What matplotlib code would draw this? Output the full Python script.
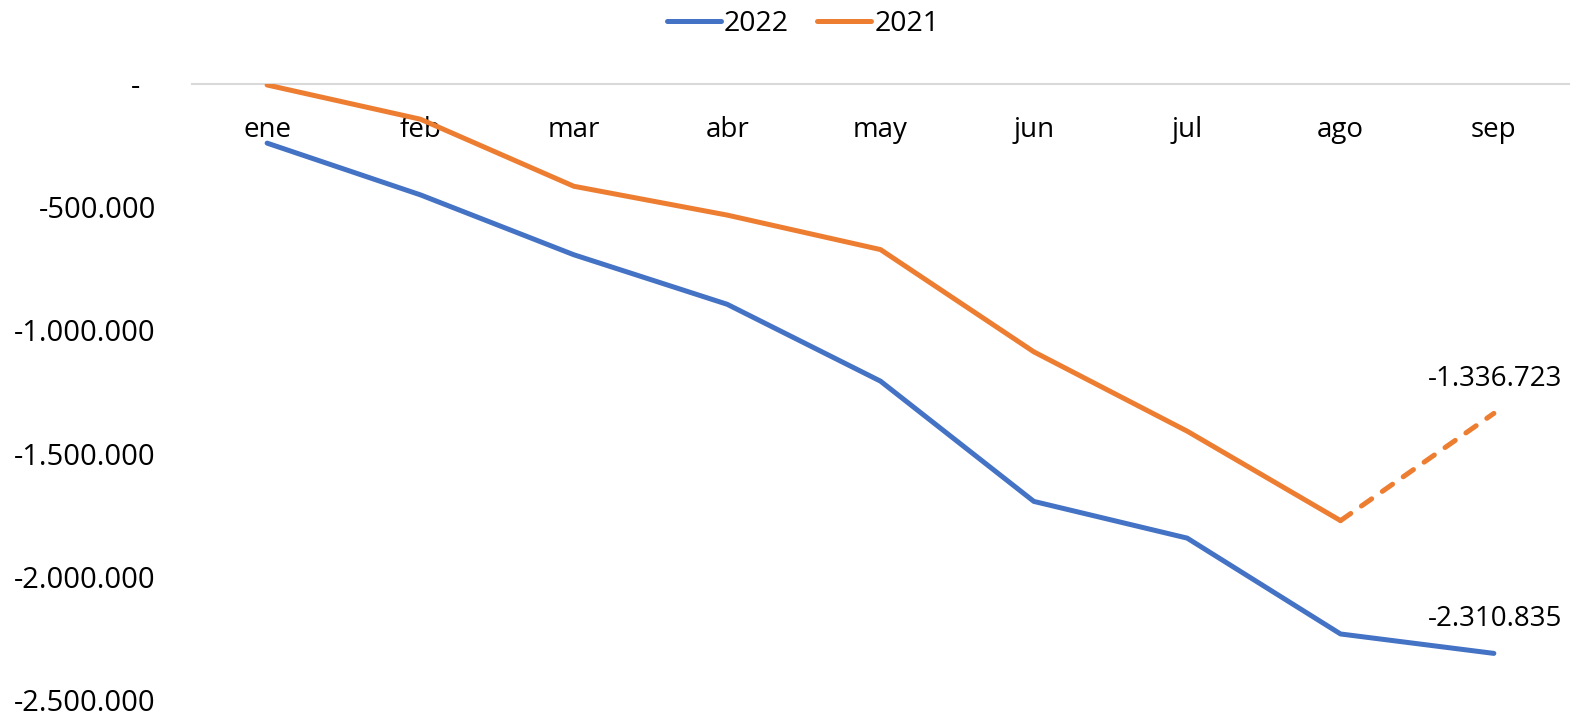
import matplotlib
matplotlib.use("Agg")
import matplotlib.pyplot as plt
from matplotlib.ticker import FuncFormatter

months = ["ene", "feb", "mar", "abr", "may", "jun", "jul", "ago", "sep"]
values_2022 = [-240000, -450000, -693000, -894000, -1206000, -1694000, -1843000, -2232000, -2310835]
values_2021 = [-4000, -143000, -415000, -532000, -672000, -1087000, -1409000, -1772000, -1336723]

BLUE = "#4472C4"
ORANGE = "#ED7D31"
FONT = "Open Sans"
FS_Y = 21
FS_X = 20
FS_LBL = 20
FS_LEG = 20.5

plt.rcParams["font.family"] = [FONT, "DejaVu Sans"]

fig = plt.figure(figsize=(15.73, 7.15), dpi=100)
ax = fig.add_axes([192 / 1573, 1 - 700 / 715, (1569 - 192) / 1573, (700 - 84) / 715])

x = list(range(len(months)))
lw = 3.6

# 2022 series
ax.plot(x, values_2022, color=BLUE, lw=lw, solid_capstyle="round",
        solid_joinstyle="round", label="2022", zorder=3)

# 2021 series: solid through ago, dashed segment to sep
ax.plot(x[:-1], values_2021[:-1], color=ORANGE, lw=lw, solid_capstyle="round",
        solid_joinstyle="round", label="2021", zorder=3)
ax.plot(x[-2:], values_2021[-2:], color=ORANGE, lw=lw, dash_capstyle="round",
        dashes=(2.5, 2.6), zorder=3)


def fmt_num(v):
    if v == 0:
        return "-  "
    s = f"{abs(int(round(v))):,}".replace(",", ".")
    return ("-" if v < 0 else "") + s


# Data labels on the last point of each series
for vals in (values_2021, values_2022):
    ax.annotate(fmt_num(vals[-1]), xy=(x[-1], vals[-1]), xytext=(1, 25),
                textcoords="offset points", ha="center", va="center",
                fontsize=FS_LBL, color="black", family=[FONT, "DejaVu Sans"])

ax.set_xlim(-0.49, 8.49)
ax.set_ylim(-2500000, 0)
ax.set_yticks([0, -500000, -1000000, -1500000, -2000000, -2500000])
ax.yaxis.set_major_formatter(FuncFormatter(lambda v, p: fmt_num(v)))

ax.set_xticks(x)
ax.set_xticklabels(months)
ax.xaxis.set_ticks_position("top")
ax.tick_params(axis="x", which="both", length=0, pad=-23, labelsize=FS_X,
               labeltop=True, labelbottom=False)
for t in ax.get_xticklabels():
    t.set_verticalalignment("top")
ax.tick_params(axis="y", length=0, pad=26, labelsize=FS_Y)

for side in ("left", "right", "bottom"):
    ax.spines[side].set_visible(False)
ax.spines["top"].set_color("#D9D9D9")
ax.spines["top"].set_linewidth(1.5)
ax.grid(False)

leg = fig.legend(handles=ax.get_lines()[:2], labels=["2022", "2021"],
                 loc="center", bbox_to_anchor=(803 / 1573, 1 - 24 / 715),
                 ncol=2, frameon=False, fontsize=FS_LEG, handlelength=1.9,
                 handletextpad=0.1, columnspacing=1.0)

fig.savefig("out.png", dpi=100, facecolor="white")
